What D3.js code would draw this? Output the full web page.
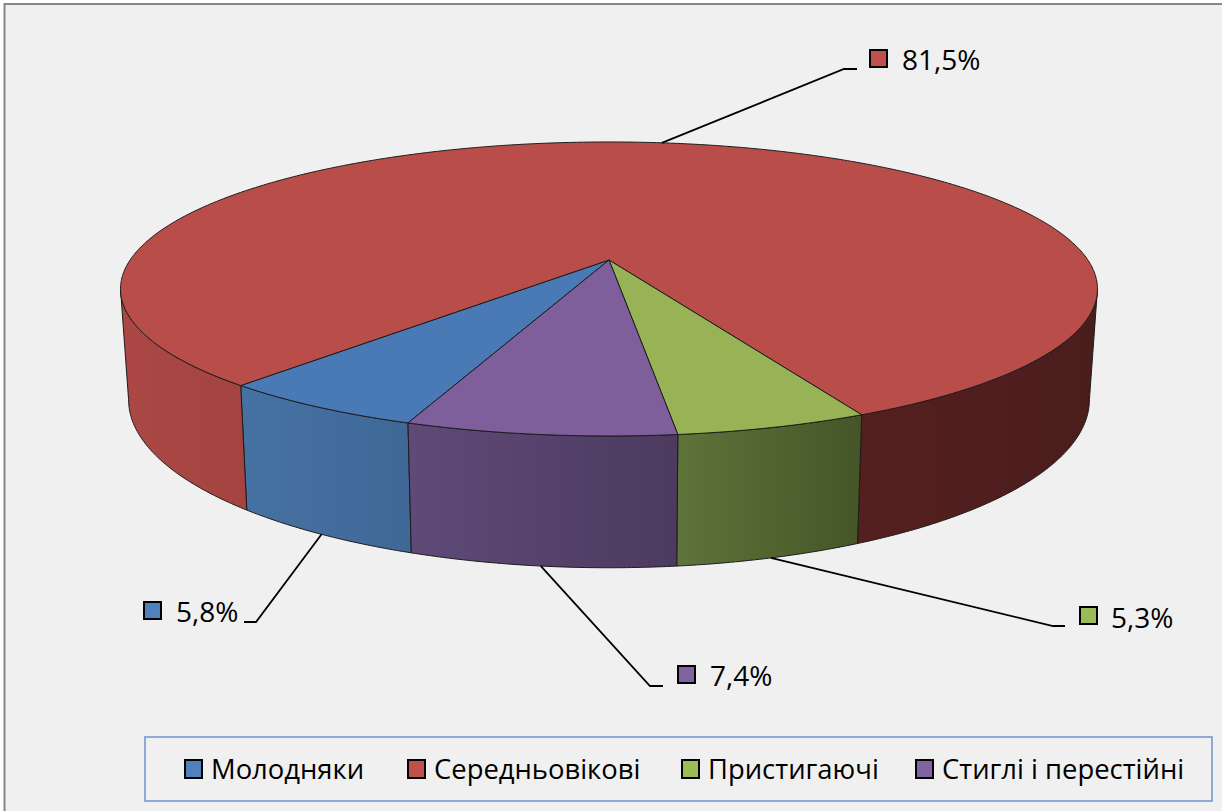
<!DOCTYPE html>
<html lang="uk">
<head>
<meta charset="UTF-8">
<title>Вікова структура</title>
<script src="https://d3js.org/d3.v7.min.js"></script>
<style>
    html, body { margin: 0; padding: 0; background: #fff; }
    svg { display: block; }
    text { font-family: "Open Sans", "Noto Sans", sans-serif; fill: #000; }
    .lbl { font-size: 28px; }
    .leg { font-size: 27.4px; }
</style>
</head>
<body>
<svg width="1222" height="811"></svg>
<script>
// data
const categories = ["Молодняки", "Середньовікові", "Пристигаючі", "Стиглі і перестійні"];
const shares = [5.8, 81.5, 5.3, 7.4];
const shareLabels = ["5,8%", "81,5%", "5,3%", "7,4%"];

const topColors = ["#4a7ab5", "#b94d4a", "#97b355", "#7e5f9b"];
const markerColors = ["#4f81bd", "#c0504d", "#9bbb59", "#8064a2"];
// wall shading, left->right for each visible piece
const wallShades = {
    "0-0": ["#4672a3", "#3f6896"],
    "1-0": ["#ab4845", "#a44340"],
    "1-1": ["#561f1f", "#4a1d1d"],
    "2-1": ["#5e743a", "#455528"],
    "3-1": ["#5f4a78", "#4c3a5f"]
};

const svg = d3.select("svg");
const width = 1222, height = 811;
const deg = Math.PI / 180;

// projection of the tilted disc: top and bottom face
const p = 0.197, cx = 609;
const topFace = { y0: 260, a: 478.9, c: 141.3 };
const botFace = { y0: 366.5, a: 471, c: 161.6 };
function project(face, theta) {
    const u = Math.sin(theta), v = -Math.cos(theta), w = 1 - p * v;
    return [cx + face.a * u / w, face.y0 + face.c * v / w];
}
function rim(face, a0, a1) {
    const n = Math.max(2, Math.ceil(Math.abs(a1 - a0) / (0.5 * deg)));
    return d3.range(n + 1).map(i => project(face, a0 + (a1 - a0) * i / n));
}
const line = d3.line();

const pie = d3.pie().sort(null).value(d => d)
    .startAngle(200 * deg).endAngle(560 * deg);
const arcs = pie(shares);

// frame
svg.append("rect").attr("x", 4.5).attr("y", 4).attr("width", width + 10).attr("height", height + 10)
    .attr("fill", "#f0f0f0").attr("stroke", "#868686").attr("stroke-width", 2);
// bottom of the title brackets, the title itself is cut off in the source
svg.append("text").attr("x", 561).attr("y", -4).attr("class", "lbl").text("(");
svg.append("text").attr("x", 716).attr("y", -4).attr("class", "lbl").text(")");

// side walls, only the part facing the viewer
const defs = svg.append("defs");
const turn = Math.acos(p);
const windows = [[Math.PI - turn, Math.PI + turn], [3 * Math.PI - turn, 3 * Math.PI + turn]];
const wallG = svg.append("g");
arcs.forEach((d, i) => {
    windows.forEach((win, k) => {
        const a0 = Math.max(d.startAngle, win[0]), a1 = Math.min(d.endAngle, win[1]);
        if (a1 <= a0) return;
        const upper = rim(topFace, a0, a1), lower = rim(botFace, a1, a0);
        const xs = upper.concat(lower).map(q => q[0]);
        const id = `wall-${i}-${k}`;
        const shade = wallShades[`${i}-${k}`];
        const grad = defs.append("linearGradient").attr("id", id)
            .attr("gradientUnits", "userSpaceOnUse")
            .attr("x1", d3.min(xs)).attr("x2", d3.max(xs)).attr("y1", 0).attr("y2", 0);
        grad.append("stop").attr("offset", 0).attr("stop-color", shade[0]);
        grad.append("stop").attr("offset", 1).attr("stop-color", shade[1]);
        wallG.append("path")
            .attr("d", line(upper.concat(lower)) + "Z")
            .attr("fill", `url(#${id})`)
            .attr("stroke", "#1c1c1c").attr("stroke-width", 1).attr("stroke-linejoin", "round");
    });
});

// top face
svg.append("g").selectAll("path").data(arcs).join("path")
    .attr("d", d => line([[cx, topFace.y0]].concat(rim(topFace, d.startAngle, d.endAngle))) + "Z")
    .attr("fill", (d, i) => topColors[i])
    .attr("stroke", "#1c1c1c").attr("stroke-width", 1).attr("stroke-linejoin", "round");

// data labels with leaders
const labelSpots = [
    { elbow: [256, 622], end: [244, 622], box: [144, 602], text: [176, 622] },
    { elbow: [844, 69], end: [857, 69], box: [870, 50], text: [902, 70] },
    { elbow: [1053, 626], end: [1065, 626], box: [1080, 607], text: [1111, 628] },
    { elbow: [650, 686], end: [663, 686], box: [678, 666], text: [710, 686] }
];
arcs.forEach((d, i) => {
    const spot = labelSpots[i];
    const mid = (d.startAngle + d.endAngle) / 2;
    const back = Math.cos(mid) > 0;
    const start = project(back ? topFace : botFace, mid);
    svg.append("path").attr("d", line([start, spot.elbow, spot.end]))
        .attr("fill", "none").attr("stroke", "#000").attr("stroke-width", 1.8);
    svg.append("rect").attr("x", spot.box[0]).attr("y", spot.box[1]).attr("width", 17).attr("height", 17)
        .attr("fill", markerColors[i]).attr("stroke", "#000").attr("stroke-width", 2);
    svg.append("text").attr("class", "lbl").attr("x", spot.text[0]).attr("y", spot.text[1]).text(shareLabels[i]);
});

// legend
svg.append("rect").attr("x", 145).attr("y", 737).attr("width", 1067).attr("height", 64)
    .attr("fill", "#f0f0f0").attr("stroke", "#8eaad6").attr("stroke-width", 2);
const legendX = d3.scaleOrdinal().domain(categories).range([185, 408, 682, 916]);
const legend = svg.append("g").selectAll("g").data(categories).join("g")
    .attr("transform", d => `translate(${legendX(d)},760)`);
legend.append("rect").attr("width", 17).attr("height", 18)
    .attr("fill", (d, i) => markerColors[i]).attr("stroke", "#000").attr("stroke-width", 2);
legend.append("text").attr("class", "leg").attr("x", 26).attr("y", 18.5).text(d => d);
</script>
</body>
</html>
